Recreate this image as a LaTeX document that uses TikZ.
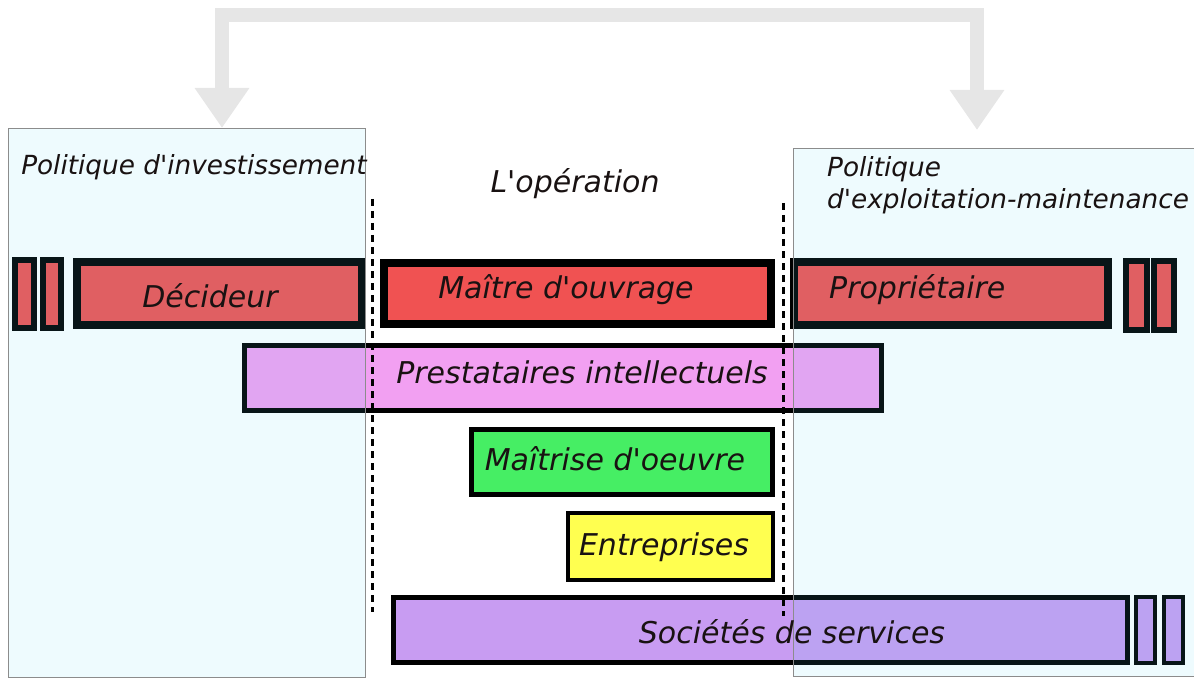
\documentclass[tikz,border=0pt]{standalone}
\usepackage{fontspec}
\setmainfont{DejaVu Sans}[Ligatures=TeXOff]
\usetikzlibrary{arrows.meta}
\pgfdeclarelayer{bg}
\pgfsetlayers{bg,main}
\definecolor{redf}{RGB}{240,82,82}
\definecolor{pinkf}{RGB}{242,160,242}
\definecolor{greenf}{RGB}{70,238,100}
\definecolor{yellowf}{RGB}{255,255,80}
\definecolor{violetf}{RGB}{200,156,242}
\definecolor{panelc}{RGB}{85,215,245}
\definecolor{arrgray}{RGB}{230,230,230}
\definecolor{panelline}{RGB}{140,140,140}
\definecolor{txt}{RGB}{25,18,18}
\newcommand\mkbox[7]{\node[#1, line width=#7pt, minimum width={(#5-#3-#7)*1pt}, minimum height={(#6-#4-#7)*1pt}] (#2) at ({(#3+#5)/2},{(#4+#6)/2}) {};}
\tikzset{
  bar/.style={draw=black, rectangle, inner sep=0pt},
  panel/.style={draw=panelline, rectangle, inner sep=0pt, fill=panelc, fill opacity=0.1, draw opacity=1},
  lbl/.style={inner sep=0pt, text=txt, font=\itshape\fontsize{30}{34}\selectfont},
  ttl/.style={inner sep=0pt, text=txt, font=\itshape\fontsize{26.3}{31}\selectfont},
  dashline/.style={draw=black, line width=3pt, dash pattern=on 7pt off 5pt},
  bigarrow/.style={draw=arrgray, line width=14pt, line join=miter,
    {Triangle[width=52pt,length=40pt]}-{Triangle[width=52pt,length=40pt]}}
}
\begin{document}
\begin{tikzpicture}[x=1pt,y=-1pt]
\useasboundingbox (0,0) rectangle (1194,679);
% bars
\mkbox{bar, fill=redf}{sl1}{12}{257}{37}{331}{6}
\mkbox{bar, fill=redf}{sl2}{40}{257}{64}{331}{6}
\mkbox{bar, fill=redf}{dec}{73}{258}{366}{329}{8}
\mkbox{bar, fill=redf}{mo}{380}{259}{775}{328}{8}
\mkbox{bar, fill=redf}{prop}{790}{258}{1112}{329}{8}
\mkbox{bar, fill=redf}{sr1}{1123}{258}{1150}{333}{6}
\mkbox{bar, fill=redf}{sr2}{1151}{258}{1177}{333}{6}
\mkbox{bar, fill=pinkf}{pi}{242}{343}{884}{413}{5}
\mkbox{bar, fill=greenf}{moe}{469}{427}{775}{497}{5}
\mkbox{bar, fill=yellowf}{ent}{566}{511}{775}{582}{4}
\mkbox{bar, fill=violetf}{soc}{391}{595}{1130}{665}{5}
\mkbox{bar, fill=violetf}{ss1}{1134}{595}{1157}{665}{4}
\mkbox{bar, fill=violetf}{ss2}{1162}{595}{1185}{665}{4}
% panels
\mkbox{panel}{lp}{8}{128}{366}{678}{1}
\mkbox{panel}{rp}{793}{148}{1215}{677}{1}
% top arrow
\coordinate (ltip) at (222,128);
\coordinate (rtip) at (977,130);
\coordinate (ttop) at (600,15);
\begin{pgfonlayer}{bg}
\draw[bigarrow] (ltip) |- (ttop) -| (rtip);
\end{pgfonlayer}
% dashed separators
\coordinate (da1) at (372,199);
\coordinate (da2) at (372,612);
\coordinate (db1) at (783,203);
\coordinate (db2) at (783,616);
\draw[dashline] (da1) -- (da2);
\draw[dashline] (db1) -- (db2);
% texts
\node[ttl, anchor=base] (t1) at (194,175) {Politique d'investissement};
\node[ttl, anchor=base west] (t2a) at (827,177) {Politique};
\node[ttl, anchor=base west] (t2b) at (827,209) {d'exploitation-maintenance};
\node[lbl, anchor=base] (top) at (575,193) {L'opération};
\node[lbl, anchor=base] (tdec) at (210,307) {Décideur};
\node[lbl, anchor=base] (tmo) at (566,298) {Maître d'ouvrage};
\node[lbl, anchor=base west] (tprop) at (829,298) {Propriétaire};
\node[lbl, anchor=base] (tpi) at (582,383) {Prestataires intellectuels};
\node[lbl, anchor=base] (tmoe) at (615,470) {Maîtrise d'oeuvre};
\node[lbl, anchor=base] (tent) at (664,555) {Entreprises};
\node[lbl, anchor=base] (tsoc) at (792,643) {Sociétés de services};
\end{tikzpicture}
\end{document}
